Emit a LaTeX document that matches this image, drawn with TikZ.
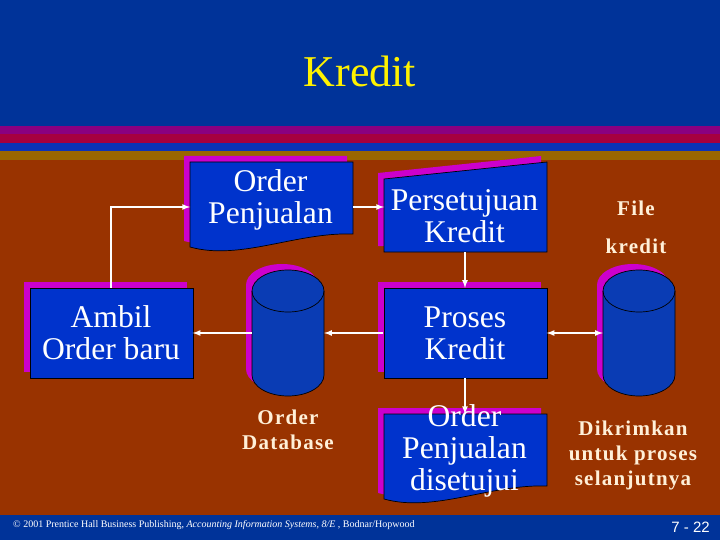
\documentclass[tikz,border=0pt]{standalone}
\usepackage{fontspec}
\setmainfont{Liberation Serif}
\setsansfont{Liberation Sans}
\newfontfamily\labelfont[LetterSpace=6]{Liberation Serif}
\usetikzlibrary{calc}

\definecolor{slideblue}{HTML}{003399}
\definecolor{slidebrown}{HTML}{993300}
\definecolor{bandpurple}{HTML}{8A0080}
\definecolor{bandred}{HTML}{A60040}
\definecolor{bandblue}{HTML}{0A33B8}
\definecolor{bandolive}{HTML}{996600}
\definecolor{shadowpink}{HTML}{CC00CC}
\definecolor{boxblue}{HTML}{0033CC}
\definecolor{cylblue}{HTML}{0A3CB4}
\definecolor{labelcream}{HTML}{FFF0D8}

\tikzset{
  boxtext/.style={text=white,align=center,inner sep=0pt,font=\fontsize{31.6}{32}\selectfont},
  sidetext/.style={text=labelcream,align=center,inner sep=0pt,font=\labelfont\bfseries\fontsize{21}{#1}\selectfont},
  link/.style={-latex,white,line width=1.6pt},
  linkboth/.style={link,latex-latex},
  outline/.style={draw=black,line width=0.7pt,fill=boxblue}
}

\begin{document}
\begin{tikzpicture}[x=1pt,y=-1pt]
\useasboundingbox (0,0) rectangle (720,540);

% background
\fill[slideblue] (0,0) rectangle (720,540);
\fill[bandpurple] (0,126) rectangle (720,134);
\fill[bandred] (0,134) rectangle (720,143);
\fill[bandblue] (0,143) rectangle (720,151);
\fill[bandolive] (0,151) rectangle (720,160);
\fill[slidebrown] (0,160) rectangle (720,515);

% plain boxes
\foreach \x/\y in {30/288, 384/288}
	{
	\fill[shadowpink] (\x-6,\y-6) rectangle (\x+157,\y+84);
	\draw[outline] (\x,\y) rectangle (\x+163,\y+90);
	}

% document boxes
\foreach \x/\y in {190/162, 384/414}
	{
	\fill[shadowpink] (\x-6,\y-6) -- (\x+157,\y-6) -- (\x+157,\y+66)
		.. controls (\x+100,\y+68) and (\x+50,\y+93) .. (\x-6,\y+79) -- cycle;
	\draw[outline] (\x,\y) -- (\x+163,\y) -- (\x+163,\y+72)
		.. controls (\x+106,\y+70) and (\x+50,\y+99) .. (\x,\y+85) -- cycle;
	}

% slanted box
\fill[shadowpink] (378,173) -- (541,156) -- (541,246) -- (378,246) -- cycle;
\draw[outline] (384,179) -- (547,162) -- (547,252) -- (384,252) -- cycle;

% cylinders
\foreach \x in {252, 603}
	{
	\fill[shadowpink] (\x-6,285) arc[start angle=180,end angle=360,x radius=36,y radius=21]
		-- (\x+66,369) arc[start angle=0,end angle=180,x radius=36,y radius=21] -- cycle;
	\draw[outline,fill=cylblue] (\x,291) arc[start angle=180,end angle=360,x radius=36,y radius=21]
		-- (\x+72,375) arc[start angle=0,end angle=180,x radius=36,y radius=21] -- cycle;
	\draw[black,line width=0.7pt] (\x,291) arc[start angle=180,end angle=0,x radius=36,y radius=21];
	}

% nodes
\node[text=yellow,font=\fontsize{44}{44}\selectfont] (title) at (360,71) {Kredit};
\node[boxtext,minimum width=163pt] (order) at (270.5,200) {Order\\Penjualan};
\node[boxtext,minimum width=163pt] (approve) at (464.5,216) {Persetujuan\\Kredit};
\node[boxtext,minimum width=163pt,minimum height=90pt] (ambil) at (111,333) {Ambil\\Order baru};
\node[boxtext,minimum width=163pt,minimum height=90pt] (proses) at (465,333) {Proses\\Kredit};
\node[boxtext,minimum width=163pt] (done) at (464.5,451) {Order\\Penjualan\\disetujui};
\node[minimum width=72pt,minimum height=126pt,inner sep=0pt] (orderdb) at (288,333) {};
\node[minimum width=72pt,minimum height=126pt,inner sep=0pt] (filedb) at (639,333) {};
\node[sidetext=38] (filelabel) at (636,227) {File\\kredit};
\node[sidetext=25] (dblabel) at (288,430) {Order\\Database};
\node[sidetext=25] (sendlabel) at (633,455) {Dikrimkan\\untuk proses\\selanjutnya};
\node[text=white,anchor=west,inner sep=0pt,font=\fontsize{10}{10}\selectfont] (credit) at (13,525)
	{\textcopyright{} 2001 Prentice Hall Business Publishing, \textit{Accounting Information Systems, 8/E} , Bodnar/Hopwood};
\node[text=white,anchor=east,inner sep=0pt,font=\sffamily\fontsize{15}{15}\selectfont] (pagenum) at (710,527) {7 - 22};

\coordinate (orderin) at (190,207);
\coordinate (approvein) at (384,207);
\coordinate (approveout) at (465,252);
\coordinate (orderout) at (353,207);
\coordinate (doneout) at (465,414);

% connectors
\draw[link] (ambil.north) |- (orderin);
\draw[link] (orderout) -- (approvein);
\draw[link] (approveout) -- (proses.north);
\draw[link] (proses.west) -- (orderdb.east);
\draw[link] (orderdb.west) -- (ambil.east);
\draw[linkboth] (proses.east) -- (filedb.west);
\draw[link] (proses.south) -- (doneout);
\end{tikzpicture}
\end{document}
